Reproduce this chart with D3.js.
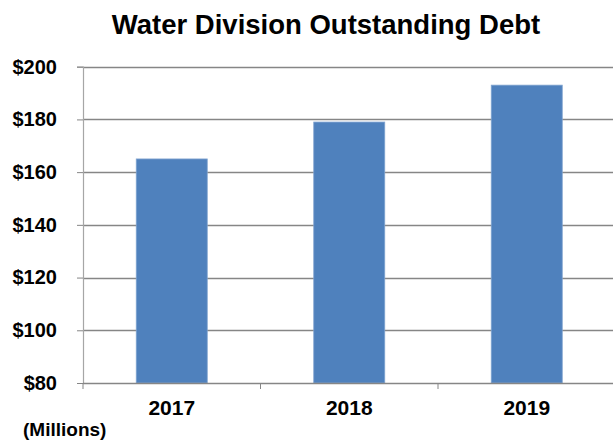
<!DOCTYPE html>
<html><head><meta charset="utf-8">
<script src="https://cdn.jsdelivr.net/npm/d3@7"></script>
<style>body{margin:0;background:#fff}svg{display:block}text{font-family:"Liberation Sans",Arial,sans-serif;font-weight:bold;fill:#000}</style>
</head><body><svg id="c" width="613" height="440"></svg>
<script>
const categories = ["2017","2018","2019"];
const values = [165, 179, 193];
const yTicks = [80,100,120,140,160,180,200];
const title = "Water Division Outstanding Debt";
const unitLabel = "(Millions)";

const svg = d3.select("#c");
const mLeft = 83, mRight = 615.5, mTop = 66.7, mBottom = 383;
const x = d3.scaleBand().domain(categories).range([mLeft, mRight]).paddingInner(0.6).paddingOuter(0.3);
const y = d3.scaleLinear().domain([80, 200]).range([mBottom, mTop]);

svg.append("text").attr("x", 326).attr("y", 34).attr("text-anchor","middle").style("font-size","27.5px").text(title);

// gridlines
svg.append("g").selectAll("line").data(yTicks.filter(d=>d>80)).join("line")
  .attr("x1", mLeft).attr("x2", 613).attr("y1", d=>Math.round(y(d))+0.5).attr("y2", d=>Math.round(y(d))+0.5)
  .attr("stroke","#868686").attr("stroke-width",1.5);

// bars
svg.append("g").selectAll("rect").data(values).join("rect")
  .attr("x",(d,i)=>x(categories[i])).attr("width",x.bandwidth())
  .attr("y",d=>y(d)).attr("height",d=>mBottom-y(d))
  .attr("fill","#4F81BD").attr("stroke","#7FA3D0").attr("stroke-width",0.8);

// y axis
const ya = svg.append("g").attr("transform",`translate(${mLeft},0)`)
  .call(d3.axisLeft(y).tickValues(yTicks).tickFormat(d=>"$"+d).tickSize(6).tickPadding(20));
ya.select(".domain").attr("stroke","#a6a6a6").attr("stroke-width",1.2);
ya.selectAll(".tick line").attr("stroke","#868686");
ya.selectAll("text").style("font-size","20px").style("font-family","'Liberation Sans',Arial,sans-serif").style("font-weight","bold").attr("fill","#000");

// x axis
const xa = svg.append("g").attr("transform",`translate(0,${mBottom})`)
  .call(d3.axisBottom(x).tickSize(0).tickPadding(17));
xa.select(".domain").remove();
svg.append("line").attr("x1",mLeft).attr("x2",613).attr("y1",mBottom+0.5).attr("y2",mBottom+0.5).attr("stroke","#868686").attr("stroke-width",1.5);
const bounds = categories.map((c,i)=>mLeft + i*(mRight-mLeft)/categories.length).concat([mRight]);
svg.append("g").selectAll("line").data(bounds).join("line")
  .attr("x1",d=>d).attr("x2",d=>d).attr("y1",mBottom).attr("y2",mBottom+6).attr("stroke","#868686");
xa.selectAll("text").style("font-size","21px").style("font-family","'Liberation Sans',Arial,sans-serif").style("font-weight","bold").attr("fill","#000");

svg.append("text").attr("x",23).attr("y",436).style("font-size","19px").text(unitLabel);
</script></body></html>
